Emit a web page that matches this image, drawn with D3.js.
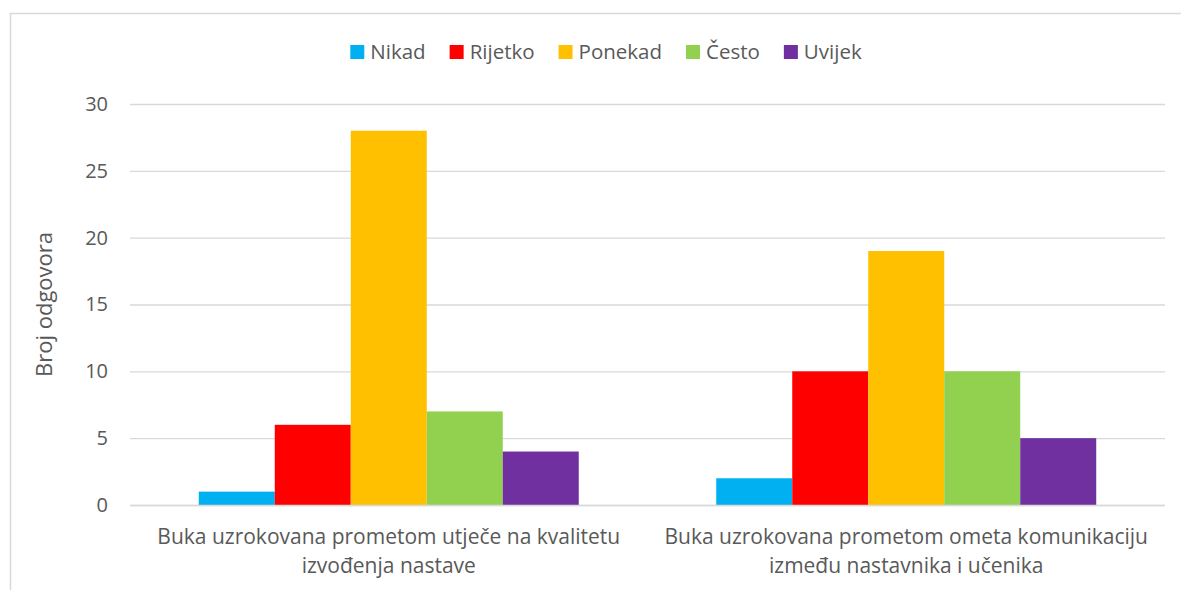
<!DOCTYPE html>
<html>
<head>
<meta charset="utf-8">
<script src="https://cdn.jsdelivr.net/npm/d3@7"></script>
<style>
  body { margin: 0; background: #fff; }
  text { font-family: "Open Sans", "DejaVu Sans", sans-serif; fill: #595959; }
</style>
</head>
<body>
<script>
var categories = [
  ["Buka uzrokovana prometom utječe na kvalitetu", "izvođenja nastave"],
  ["Buka uzrokovana prometom ometa komunikaciju", "između nastavnika i učenika"]
];
var seriesNames = ["Nikad", "Rijetko", "Ponekad", "Često", "Uvijek"];
var seriesColors = ["#00b0f0", "#ff0000", "#ffc000", "#92d050", "#7030a0"];
var nikad = [1, 2];
var rijetko = [6, 10];
var ponekad = [28, 19];
var cesto = [7, 10];
var uvijek = [4, 5];
var yTicks = [0, 5, 10, 15, 20, 25, 30];

var values = [nikad, rijetko, ponekad, cesto, uvijek];

var W = 1181, H = 590;
var plotLeft = 130, plotRight = 1165, plotTop = 104, plotBottom = 505;

var svg = d3.select("body").append("svg")
  .attr("width", W)
  .attr("height", H);

// chart frame (only top and left edge visible in the crop)
svg.append("path")
  .attr("d", "M10.5," + H + " V13.5 H" + W)
  .attr("fill", "none")
  .attr("stroke", "#d9d9d9")
  .attr("stroke-width", 1.5);

var y = d3.scaleLinear().domain([0, 30]).range([plotBottom, plotTop]);

var x0 = d3.scaleBand()
  .domain(d3.range(categories.length))
  .range([plotLeft, plotRight])
  .paddingInner(0.2657)
  .paddingOuter(0.1329);

var x1 = d3.scaleBand()
  .domain(d3.range(seriesNames.length))
  .range([0, x0.bandwidth()]);

// gridlines
var yAxis = d3.axisLeft(y)
  .tickValues(yTicks)
  .tickSize(-(plotRight - plotLeft))
  .tickPadding(22)
  .tickFormat(d3.format("d"));

var gy = svg.append("g")
  .attr("transform", "translate(" + plotLeft + ",0)")
  .call(yAxis);
gy.select(".domain").remove();
gy.selectAll(".tick line").attr("stroke", "#d9d9d9").attr("stroke-width", 1.3);
gy.selectAll(".tick text").style("font-size", "20px").attr("fill", "#595959");

// bars
var groups = svg.selectAll("g.cat")
  .data(categories)
  .enter().append("g")
  .attr("class", "cat")
  .attr("transform", function(d, i) { return "translate(" + x0(i) + ",0)"; });

groups.selectAll("rect")
  .data(function(d, i) { return values.map(function(s, j) { return {s: j, v: s[i]}; }); })
  .enter().append("rect")
  .attr("x", function(d) { return x1(d.s); })
  .attr("y", function(d) { return y(d.v); })
  .attr("width", x1.bandwidth())
  .attr("height", function(d) { return y(0) - y(d.v); })
  .attr("fill", function(d) { return seriesColors[d.s]; });

// x axis line
svg.append("line")
  .attr("x1", plotLeft).attr("x2", plotRight)
  .attr("y1", y(0) + 0.5).attr("y2", y(0) + 0.5)
  .attr("stroke", "#d9d9d9")
  .attr("stroke-width", 1.3);

// category labels
categories.forEach(function(lines, i) {
  var cx = x0(i) + x0.bandwidth() / 2;
  var t = svg.append("text")
    .attr("text-anchor", "middle")
    .style("font-size", "21px");
  lines.forEach(function(l, k) {
    t.append("tspan")
      .attr("x", cx)
      .attr("y", 544 + k * 29)
      .text(l);
  });
});

// y axis title
svg.append("text")
  .attr("transform", "translate(52," + ((plotTop + plotBottom) / 2) + ") rotate(-90)")
  .attr("text-anchor", "middle")
  .style("font-size", "22px")
  .text("Broj odgovora");

// legend
var legend = svg.append("g");
var lx = 0;
seriesNames.forEach(function(name, i) {
  var g = legend.append("g").attr("transform", "translate(" + lx + ",0)");
  g.append("rect")
    .attr("x", 0).attr("y", -14)
    .attr("width", 14).attr("height", 14)
    .attr("fill", seriesColors[i]);
  var t = g.append("text")
    .attr("x", 20).attr("y", 0)
    .style("font-size", "20.5px")
    .text(name);
  lx += 20 + t.node().getComputedTextLength() + 24;
});
lx -= 24;
legend.attr("transform", "translate(" + (606 - lx / 2) + ",59)");
</script>
</body>
</html>
